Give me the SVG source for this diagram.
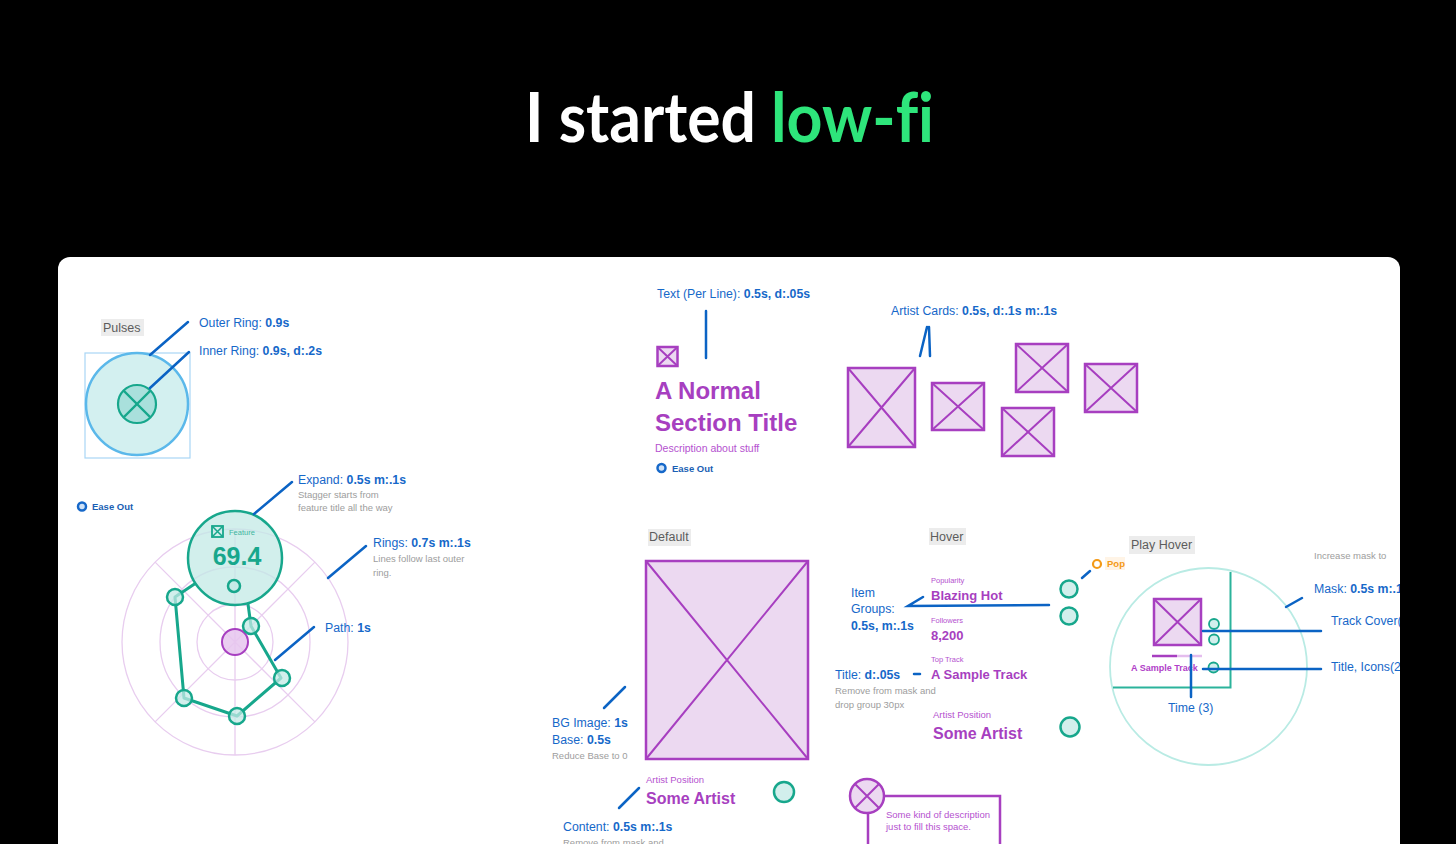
<svg xmlns="http://www.w3.org/2000/svg" width="1456" height="844" viewBox="0 0 1456 844">
<style>
text{font-family:"Liberation Sans",Arial,sans-serif}
text.ttl{font-family:Lato,Inter,"Liberation Sans",sans-serif;font-size:68px;font-weight:700;font-variant-ligatures:none;font-feature-settings:"liga" 0}
.b{fill:#1668c9;font-size:12.3px}
.bb{font-weight:700}
.g{fill:#9d9d9d;font-size:9.5px}
.lbl{fill:#5c5c5c;font-size:12.5px}
.lblbg{fill:#ececec}
.conn{stroke:#0b63c4;stroke-width:2.5;stroke-linecap:round;fill:none}
.card{fill:#ecd9f1;stroke:#a73fc0;stroke-width:2.5}
.x{stroke:#a73fc0;stroke-width:2;fill:none}
.p{fill:#a73fc0}
.tn{fill:#c3e9e6;fill-opacity:.75;stroke:#17a78c;stroke-width:2.5}
.ring{fill:none;stroke:#e8cdef;stroke-width:1.3}
.teal{stroke:#17a78c;stroke-width:3;fill:none;stroke-linejoin:round}
.ease{fill:#cfe2f7;stroke:#1668c9;stroke-width:2.5}
.et{fill:#1a5fb4;font-size:9.5px;font-weight:700}
.sp{fill:#b552cf}
</style>
<defs>
<clipPath id="panelClip"><rect x="58" y="257" width="1342" height="620" rx="12"/></clipPath>
</defs>
<rect width="1456" height="844" fill="#000"/>
<g id="title">
<text class="ttl" x="525" y="142" fill="#ffffff" textLength="231" lengthAdjust="spacingAndGlyphs">I started</text>
<text class="ttl" x="771" y="142" fill="#2ee57b" textLength="163" lengthAdjust="spacingAndGlyphs">low-fi</text>
</g>
<rect id="panel" x="58" y="257" width="1342" height="620" rx="12" fill="#ffffff"/>
<g clip-path="url(#panelClip)">

<g id="pulses">
<rect class="lblbg" x="101" y="319" width="43" height="17"/>
<text class="lbl" x="103" y="332">Pulses</text>
<rect x="85" y="353" width="105" height="105" fill="none" stroke="#a9d6f5" stroke-width="1.2"/>
<circle cx="137" cy="404" r="51" fill="#d3f0f0" stroke="#5bb8ea" stroke-width="2.5"/>
<circle cx="137" cy="404" r="19" fill="#a9e0dc" stroke="#17a78c" stroke-width="2.2"/>
<path d="M123.6 390.6L150.4 417.4M150.4 390.6L123.6 417.4" stroke="#17a78c" stroke-width="2.2"/>
<text class="b" x="199" y="327">Outer Ring: <tspan class="bb">0.9s</tspan></text>
<text class="b" x="199" y="355">Inner Ring: <tspan class="bb">0.9s, d:.2s</tspan></text>
</g>

<g id="ease-out-left">
<circle class="ease" cx="82" cy="506.5" r="4"/>
<text class="et" x="92" y="510">Ease Out</text>
</g>

<g id="radar">
<circle class="ring" cx="235" cy="642" r="38"/>
<circle class="ring" cx="235" cy="642" r="75"/>
<circle class="ring" cx="235" cy="642" r="113"/>
<path class="ring" d="M235 529V755M155.1 562.1L314.9 721.9M314.9 562.1L155.1 721.9"/>
<circle cx="235" cy="642" r="13" fill="#e6c6ee" fill-opacity=".85" stroke="#a73fc0" stroke-width="2"/>
<polyline class="teal" points="196,583 175,597 184,698 237,716 281,678 251,626 248,604"/>
<circle class="tn" cx="235" cy="558" r="47"/>
<circle class="tn" cx="234" cy="586" r="6"/>
<circle class="tn" cx="175" cy="597" r="8"/>
<circle class="tn" cx="184" cy="698" r="8"/>
<circle class="tn" cx="237" cy="716" r="8"/>
<circle class="tn" cx="282" cy="678" r="8"/>
<circle class="tn" cx="251" cy="626" r="8"/>
<rect x="212" y="526" width="11" height="11" fill="none" stroke="#17a78c" stroke-width="1.8"/>
<path d="M212 526L223 537M223 526L212 537" stroke="#17a78c" stroke-width="1.5"/>
<text x="229" y="534.5" font-size="7.5" fill="#3fb69f">Feature</text>
<text x="237" y="565" font-size="25" font-weight="700" fill="#17a78c" text-anchor="middle">69.4</text>
</g>

<g id="radar-labels">
<text class="b" x="298" y="484">Expand: <tspan class="bb">0.5s m:.1s</tspan></text>
<text class="g" x="298" y="498">Stagger starts from</text>
<text class="g" x="298" y="511">feature title all the way</text>
<text class="b" x="373" y="547">Rings: <tspan class="bb">0.7s m:.1s</tspan></text>
<text class="g" x="373" y="562">Lines follow last outer</text>
<text class="g" x="373" y="576">ring.</text>
<text class="b" x="325" y="632">Path: <tspan class="bb">1s</tspan></text>
</g>

<g id="section-title">
<text class="b" x="657" y="298">Text (Per Line): <tspan class="bb">0.5s, d:.05s</tspan></text>
<rect class="card" x="657.5" y="347" width="20" height="19" stroke-width="2"/>
<path class="x" d="M657.5 347L677.5 366M677.5 347L657.5 366" stroke-width="1.8"/>
<text class="p" x="655" y="399" font-size="24" font-weight="700">A Normal</text>
<text class="p" x="655" y="431" font-size="24" font-weight="700">Section Title</text>
<text class="sp" x="655" y="452" font-size="10.5">Description about stuff</text>
<circle class="ease" cx="661.5" cy="468" r="4"/>
<text class="et" x="672" y="472">Ease Out</text>
</g>

<g id="artist-cards">
<text class="b" x="891" y="315">Artist Cards: <tspan class="bb">0.5s, d:.1s m:.1s</tspan></text>
<rect class="card" x="848" y="368" width="67" height="79"/>
<path class="x" d="M848 368L915 447M915 368L848 447"/>
<rect class="card" x="932" y="383" width="52" height="47"/>
<path class="x" d="M932 383L984 430M984 383L932 430"/>
<rect class="card" x="1016" y="344" width="52" height="48"/>
<path class="x" d="M1016 344L1068 392M1068 344L1016 392"/>
<rect class="card" x="1002" y="408" width="52" height="48"/>
<path class="x" d="M1002 408L1054 456M1054 408L1002 456"/>
<rect class="card" x="1085" y="364" width="52" height="48"/>
<path class="x" d="M1085 364L1137 412M1137 364L1085 412"/>
</g>

<g id="default">
<rect class="lblbg" x="648" y="529" width="43" height="17"/>
<text class="lbl" x="649" y="541">Default</text>
<rect class="card" x="646" y="561" width="162" height="198"/>
<path class="x" d="M646 561L808 759M808 561L646 759"/>
<text class="b" x="552" y="727">BG Image: <tspan class="bb">1s</tspan></text>
<text class="b" x="552" y="744">Base: <tspan class="bb">0.5s</tspan></text>
<text class="g" x="552" y="759">Reduce Base to 0</text>
</g>

<g id="hover">
<rect class="lblbg" x="929" y="528" width="37" height="17"/>
<text class="lbl" x="930" y="541">Hover</text>
<text class="b" x="851" y="597">Item</text>
<text class="b" x="851" y="613">Groups:</text>
<text class="b bb" x="851" y="630">0.5s, m:.1s</text>
<text class="sp" x="931" y="583" font-size="7.5">Popularity</text>
<text class="p" x="931" y="600" font-size="13" font-weight="700">Blazing Hot</text>
<text class="sp" x="931" y="623" font-size="7.5">Followers</text>
<text class="p" x="931" y="640" font-size="13" font-weight="700">8,200</text>
<text class="sp" x="931" y="662" font-size="7.5">Top Track</text>
<text class="p" x="931" y="679" font-size="13" font-weight="700">A Sample Track</text>
<text class="b" x="835" y="679">Title: <tspan class="bb">d:.05s</tspan></text>
<text class="g" x="835" y="694">Remove from mask and</text>
<text class="g" x="835" y="708">drop group 30px</text>
<text class="sp" x="933" y="718" font-size="9.5">Artist Position</text>
<text class="p" x="933" y="739" font-size="16" font-weight="700">Some Artist</text>
<circle class="tn" cx="1069" cy="589" r="8.5" stroke-width="2"/>
<circle class="tn" cx="1069" cy="616" r="8.5" stroke-width="2"/>
<circle class="tn" cx="1070" cy="727" r="9.5" stroke-width="2"/>
<circle cx="1097" cy="564" r="4" fill="#fff" stroke="#f49a17" stroke-width="2.2"/>
<rect x="1105" y="557" width="20" height="13" fill="#fff4e6"/>
<text x="1107" y="567" font-size="9.5" font-weight="700" fill="#f49a17">Pop</text>
</g>

<g id="play-hover">
<rect class="lblbg" x="1129" y="536" width="66" height="18"/>
<text class="lbl" x="1131" y="549">Play Hover</text>
<text class="g" x="1314" y="559">Increase mask to</text>
<circle cx="1208.5" cy="666.5" r="98.5" fill="none" stroke="#b9ebe4" stroke-width="1.8"/>
<path d="M1230.5 572V687.5H1113" fill="none" stroke="#2bb39b" stroke-width="2"/>
<rect class="card" x="1154" y="599" width="47" height="46"/>
<path class="x" d="M1154 599L1201 645M1201 599L1154 645"/>
<path d="M1152 656H1177" stroke="#a73fc0" stroke-width="2.5"/>
<path d="M1177 656H1202" stroke="#e4bdee" stroke-width="2.5"/>
<text x="1131" y="671" font-size="9" font-weight="700" fill="#b040c8">A Sample Track</text>
<circle cx="1214" cy="624" r="5" fill="#d2efed" stroke="#17a78c" stroke-width="1.8"/>
<circle cx="1214" cy="639.5" r="5" fill="#d2efed" stroke="#17a78c" stroke-width="1.8"/>
<circle cx="1213.5" cy="667.5" r="5" fill="#d2efed" stroke="#17a78c" stroke-width="1.8"/>
<text class="b" x="1168" y="712">Time (3)</text>
<text class="b" x="1314" y="593">Mask: <tspan class="bb">0.5s m:.1s</tspan></text>
<text class="b" x="1331" y="625">Track Cover(s)</text>
<text class="b" x="1331" y="671">Title, Icons(2)</text>
</g>

<g id="content">
<text class="sp" x="646" y="783" font-size="9.5">Artist Position</text>
<text class="p" x="646" y="804" font-size="16" font-weight="700">Some Artist</text>
<text class="b" x="563" y="831">Content: <tspan class="bb">0.5s m:.1s</tspan></text>
<text class="g" x="563" y="846">Remove from mask and</text>
<circle class="tn" cx="784" cy="792" r="10" stroke-width="2"/>
</g>

<g id="description">
<path d="M884 796H1000V860M868 812V860" fill="none" stroke="#a73fc0" stroke-width="2.5"/>
<circle cx="867" cy="796" r="17" fill="#ecd9f1" stroke="#a73fc0" stroke-width="2.5"/>
<path class="x" d="M855 784L879 808M879 784L855 808"/>
<text class="sp" x="886" y="818" font-size="9.5">Some kind of description</text>
<text class="sp" x="886" y="830" font-size="9.5">just to fill this space.</text>
</g>

<g id="connectors">
<path class="conn" d="M150 355L188 322"/>
<path class="conn" d="M150 388L189 352"/>
<path class="conn" d="M254 514L292 482"/>
<path class="conn" d="M328 578L366 546"/>
<path class="conn" d="M275 660L314 627"/>
<path class="conn" d="M706 311V358"/>
<path class="conn" d="M920 356L927 327M929 327L930 356"/>
<path class="conn" d="M604 708L625 687"/>
<path class="conn" d="M923 597L908 606L1049 605"/>
<path class="conn" d="M914 674H920"/>
<path class="conn" d="M1082 578L1090 571" stroke="#f49a17"/>
<path class="conn" d="M1203 631H1321"/>
<path class="conn" d="M1203 669H1321"/>
<path class="conn" d="M1191 655V697"/>
<path class="conn" d="M1286 607L1302 598"/>
<path class="conn" d="M619 808L639 788"/>
</g>
</g>
</svg>
